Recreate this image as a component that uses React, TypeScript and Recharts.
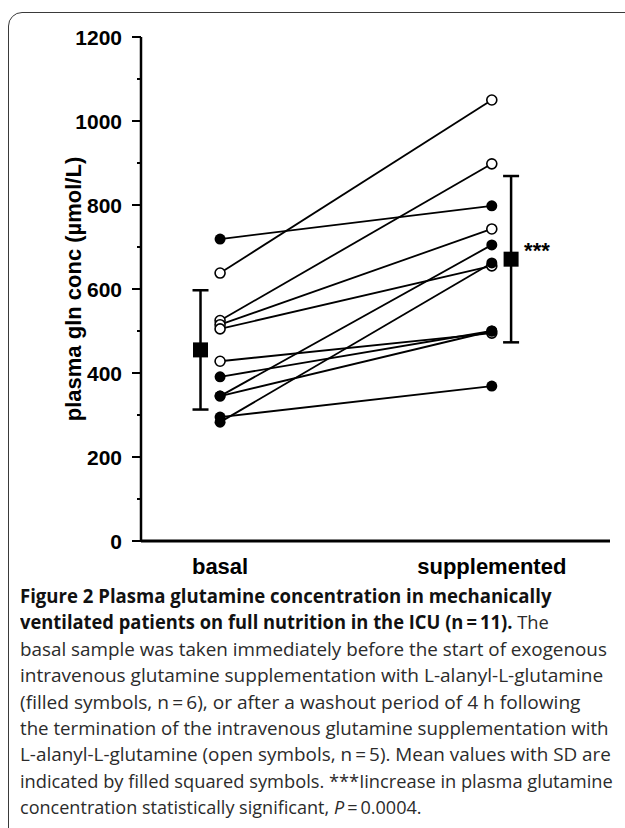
import React, { useLayoutEffect, useRef, useState } from 'react';
import { ComposedChart, Scatter, XAxis, YAxis, ErrorBar } from 'recharts';

// ---- data ----
const groups = ['basal', 'supplemented'];
const filledBasal = [719, 391, 345, 345, 295, 283];
const filledSupplemented = [798, 500, 500, 705, 369, 662];
const openBasal = [638, 525, 515, 505, 428];
const openSupplemented = [1050, 898, 743, 655, 495];
const meanValues = [455, 671];
const sdValues = [142, 198];
const yTicks = [0, 100, 200, 300, 400, 500, 600, 700, 800, 900, 1000, 1100, 1200];
const yLabel = 'plasma gln conc (\u00b5mol/L)';
const significance = ['', '***'];

// ---- layout constants ----
const GROUP_X = [0, 1];
const MEAN_OFFSET = [-0.072, 0.071];
const FONT = "'Liberation Sans', Arial, Helvetica, sans-serif";
const CAPTION_FONT = "'Open Sans', 'Noto Sans', sans-serif";

type Pt = { x: number; y: number };

const pairs = [
  ...filledBasal.map((b, i) => ({ kind: 'filled', b, s: filledSupplemented[i] })),
  ...openBasal.map((b, i) => ({ kind: 'open', b, s: openSupplemented[i] })),
];
const lineSeries: Pt[][] = pairs.map((p) => [
  { x: GROUP_X[0], y: p.b },
  { x: GROUP_X[1], y: p.s },
]);
const openPoints: Pt[] = [
  ...openBasal.map((v) => ({ x: GROUP_X[0], y: v })),
  ...openSupplemented.map((v) => ({ x: GROUP_X[1], y: v })),
];
const filledPoints: Pt[] = [
  ...filledBasal.map((v) => ({ x: GROUP_X[0], y: v })),
  ...filledSupplemented.map((v) => ({ x: GROUP_X[1], y: v })),
];
const meanData = meanValues.map((m, i) => ({
  x: GROUP_X[i] + MEAN_OFFSET[i],
  y: m,
  sd: sdValues[i],
  sig: significance[i],
}));

const YTick = (props: any) => {
  const { x, y, payload } = props;
  const v = payload.value as number;
  const major = v % 200 === 0;
  return (
    <g>
      <line x1={x - (major ? 9 : 4)} x2={x} y1={y} y2={y} stroke="#000" strokeWidth={2} />
      {major && (
        <text
          x={x - 19}
          y={y}
          dy="0.36em"
          textAnchor="end"
          fontFamily={FONT}
          fontWeight={700}
          fontSize={21}
          fill="#000"
        >
          {v}
        </text>
      )}
    </g>
  );
};

const XTick = (props: any) => {
  const { x, y, payload } = props;
  const idx = GROUP_X.indexOf(payload.value);
  return (
    <text
      x={x}
      y={y + 33}
      textAnchor="middle"
      fontFamily={FONT}
      fontWeight={700}
      fontSize={22}
      fill="#000"
    >
      {groups[idx] ?? ''}
    </text>
  );
};

const YLabel = (props: any) => {
  const vb = props.viewBox || {};
  const cx = (vb.x ?? 0) + 73;
  const cy = (vb.y ?? 0) + (vb.height ?? 0) / 2;
  return (
    <text
      x={cx}
      y={cy}
      transform={`rotate(-90 ${cx} ${cy})`}
      textAnchor="middle"
      dominantBaseline="central"
      fontFamily={FONT}
      fontWeight={700}
      fontSize={22}
      fill="#000"
    >
      {yLabel}
    </text>
  );
};

const FilledDot = (props: any) => <circle cx={props.cx} cy={props.cy} r={5.5} fill="#000" />;
const OpenDot = (props: any) => (
  <circle cx={props.cx} cy={props.cy} r={5} fill="#fff" stroke="#000" strokeWidth={1.6} />
);
const NoDot = () => <g />;
const MeanSquare = (props: any) => {
  const { cx, cy, payload } = props;
  return (
    <g>
      <rect x={cx - 7.5} y={cy - 7.5} width={15} height={15} fill="#000" />
      {payload && payload.sig ? (
        <text x={cx + 13} y={cy - 1} fontFamily={FONT} fontWeight={700} fontSize={22} fill="#000">
          {payload.sig}
        </text>
      ) : null}
    </g>
  );
};

type Part = { t: string; b?: boolean; i?: boolean };
const captionLines: { w: number; parts: Part[] }[] = [
  { w: 531, parts: [{ t: 'Figure 2 Plasma glutamine concentration in mechanically', b: true }] },
  {
    w: 529,
    parts: [
      { t: 'ventilated patients on full nutrition in the ICU (n\u2009=\u200911).', b: true },
      { t: ' The' },
    ],
  },
  { w: 587, parts: [{ t: 'basal sample was taken immediately before the start of exogenous' }] },
  { w: 583, parts: [{ t: 'intravenous glutamine supplementation with L-alanyl-L-glutamine' }] },
  { w: 561, parts: [{ t: '(filled symbols, n\u2009=\u20096), or after a washout period of 4 h following' }] },
  { w: 589, parts: [{ t: 'the termination of the intravenous glutamine supplementation with' }] },
  { w: 591, parts: [{ t: 'L-alanyl-L-glutamine (open symbols, n\u2009=\u20095). Mean values with SD are' }] },
  { w: 593, parts: [{ t: 'indicated by filled squared symbols. ***Iincrease in plasma glutamine' }] },
  {
    w: 402,
    parts: [
      { t: 'concentration statistically significant, ' },
      { t: 'P', i: true },
      { t: '\u2009=\u20090.0004.' },
    ],
  },
];

function CaptionLine({ width, top, parts }: { width: number; top: number; parts: Part[] }) {
  const ref = useRef<HTMLDivElement>(null);
  const [scale, setScale] = useState(1);
  useLayoutEffect(() => {
    if (ref.current) {
      const w = ref.current.offsetWidth;
      if (w > 0) setScale(width / w);
    }
  }, [width]);
  return (
    <div
      ref={ref}
      style={{
        position: 'absolute',
        left: 20,
        top,
        whiteSpace: 'nowrap',
        transform: `scaleX(${scale})`,
        transformOrigin: '0 0',
        fontFamily: CAPTION_FONT,
        fontSize: 19,
        lineHeight: '26px',
      }}
    >
      {parts.map((p, j) => (
        <span
          key={j}
          style={{
            fontWeight: p.b ? 700 : 400,
            fontStyle: p.i ? 'italic' : 'normal',
            color: p.b ? '#111' : '#2b2b2b',
          }}
        >
          {p.t}
        </span>
      ))}
    </div>
  );
}

export default function App() {
  return (
    <div
      style={{
        position: 'absolute',
        left: 0,
        top: 0,
        width: 625,
        height: 828,
        overflow: 'hidden',
        background: '#fff',
      }}
    >
      <div
        style={{
          position: 'absolute',
          left: 8,
          top: 12,
          width: 720,
          height: 900,
          border: '1.5px solid #3a3a3a',
          borderRadius: 14,
        }}
      />
      <div style={{ position: 'absolute', left: 0, top: 0 }}>
        <ComposedChart width={625} height={600} margin={{ top: 37, right: 15, bottom: 9, left: 0 }}>
          <XAxis
            type="number"
            dataKey="x"
            domain={[-0.291, 1.435]}
            allowDataOverflow
            ticks={GROUP_X}
            tick={<XTick />}
            tickSize={0}
            tickMargin={0}
            tickLine={false}
            axisLine={{ stroke: '#000', strokeWidth: 3 }}
            height={50}
            interval={0}
          />
          <YAxis
            type="number"
            dataKey="y"
            domain={[0, 1200]}
            ticks={yTicks}
            tick={<YTick />}
            tickSize={0}
            tickMargin={0}
            tickLine={false}
            axisLine={{ stroke: '#000', strokeWidth: 2.5 }}
            width={141}
            interval={0}
            label={<YLabel />}
          />
          {lineSeries.map((d, i) => (
            <Scatter
              key={'l' + i}
              data={d}
              line={{ stroke: '#000', strokeWidth: 1.8 }}
              shape={<NoDot />}
              isAnimationActive={false}
            />
          ))}
          <Scatter data={openPoints} shape={<OpenDot />} isAnimationActive={false} />
          <Scatter data={filledPoints} shape={<FilledDot />} isAnimationActive={false} />
          <Scatter data={meanData} shape={<MeanSquare />} isAnimationActive={false}>
            <ErrorBar dataKey="sd" direction="y" width={8} stroke="#000" strokeWidth={2.5} />
          </Scatter>
        </ComposedChart>
      </div>
      {captionLines.map((ln, i) => (
        <CaptionLine key={i} width={ln.w} top={583 + i * 26.4} parts={ln.parts} />
      ))}
    </div>
  );
}
